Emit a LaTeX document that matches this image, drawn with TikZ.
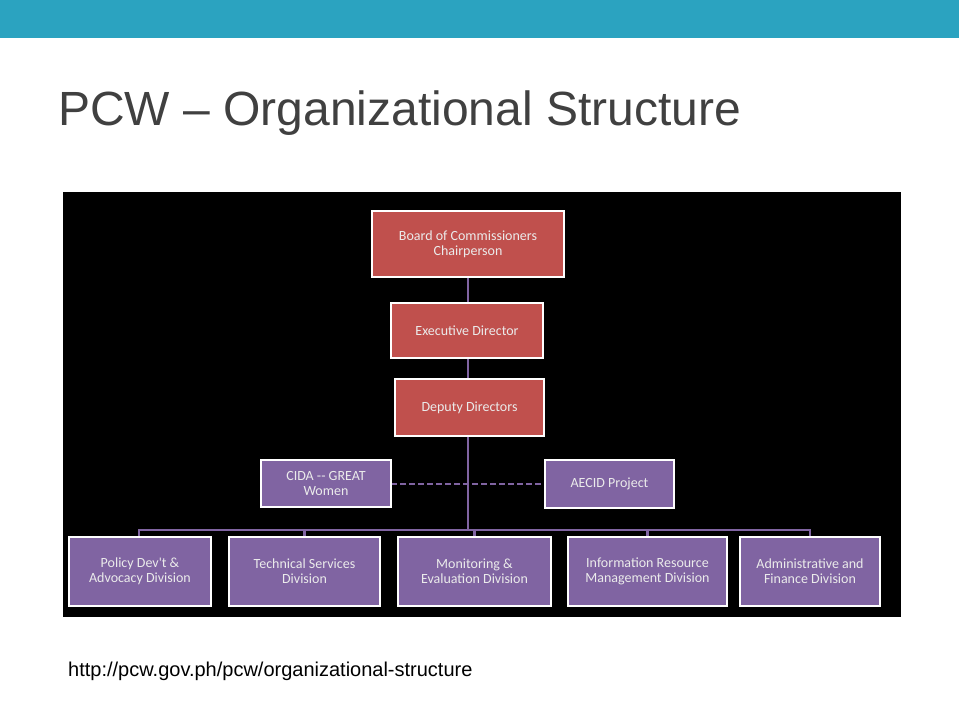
\documentclass[tikz,border=0pt]{standalone}
\usepackage{fontspec}
\setmainfont{Liberation Sans}
\newfontfamily\boxfont{Carlito}
\definecolor{topbar}{HTML}{2BA3C0}
\definecolor{redbox}{HTML}{C0504D}
\definecolor{purp}{HTML}{8064A2}
\definecolor{titlegray}{HTML}{404040}
\tikzset{
  box/.style={draw=white, line width=1.5pt, text=white!92!black, align=center, font=\boxfont\fontsize{14}{15}\selectfont, inner sep=0pt},
  rbox/.style={box, fill=redbox},
  pbox/.style={box, fill=purp},
  conn/.style={draw=purp, line width=2.5pt},
}
\begin{document}
\begin{tikzpicture}[x=1pt,y=-1pt]
\useasboundingbox (0,0) rectangle (959,719);
\fill[white] (0,0) rectangle (959,719);
\fill[topbar] (0,0) rectangle (959,38);
\node[anchor=base west, text=titlegray, font=\fontsize{48}{50}\selectfont, inner sep=0pt] (title) at (58,126) {PCW -- Organizational Structure};
\fill[black] (63,192) rectangle (901,617);
% connectors first
\coordinate (j) at (468,530);
\draw[conn] (468,244) -- (j);
\draw[conn] (139,537) |- (810,530) -- (810,537);
\draw[conn] (304.5,530) -- (304.5,537);
\draw[conn] (474.5,530) -- (474.5,537);
\draw[conn] (647.5,530) -- (647.5,537);
\draw[conn, dashed, dash pattern=on 6pt off 3pt] (391,484) -- (545,484);
% nodes
\node[rbox, minimum width=192, minimum height=66] (board) at (468,244) {Board of Commissioners\\Chairperson};
\node[rbox, minimum width=152, minimum height=55] (exec) at (467,330.5) {Executive Director};
\node[rbox, minimum width=149, minimum height=57] (dep) at (469.5,407.5) {Deputy Directors};
\node[pbox, minimum width=130, minimum height=47] (cida) at (326,483.5) {CIDA -- GREAT\\Women};
\node[pbox, minimum width=129, minimum height=48] (aecid) at (609.5,484) {AECID Project};
\node[pbox, minimum width=142, minimum height=69] (pol) at (140,571.5) {Policy Dev't \&\\Advocacy Division};
\node[pbox, minimum width=151, minimum height=69] (tech) at (304.5,571.5) {Technical Services\\Division};
\node[pbox, minimum width=153, minimum height=69] (mon) at (474.5,571.5) {Monitoring \&\\Evaluation Division};
\node[pbox, minimum width=159, minimum height=69] (info) at (647.5,571.5) {Information Resource\\Management Division};
\node[pbox, minimum width=140, minimum height=69] (adm) at (810,571.5) {Administrative and\\Finance Division};
\node[anchor=base west, font=\fontsize{20}{22}\selectfont, inner sep=0pt] (url) at (68,676) {http://pcw.gov.ph/pcw/organizational-structure};
\end{tikzpicture}
\end{document}
